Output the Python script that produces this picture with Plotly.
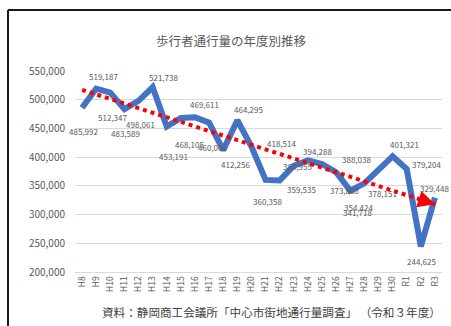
import numpy as np
import plotly.graph_objects as go

# Fiscal years (Heisei 8 .. Reiwa 3)
years = ["H8", "H9", "H10", "H11", "H12", "H13", "H14", "H15", "H16", "H17",
         "H18", "H19", "H20", "H21", "H22", "H23", "H24", "H25", "H26", "H27",
         "H28", "H29", "H30", "R1", "R2", "R3"]

# Pedestrian counts per fiscal year
counts = [485992, 519187, 512347, 483589, 498061, 521738, 453191, 468105,
          469611, 460006, 412256, 464295, 418514, 360358, 359535, 384955,
          394288, 388038, 373808, 341718, 354424, 378151, 401321, 379204,
          244625, 329448]

y_ticks = [200000, 250000, 300000, 350000, 400000, 450000, 500000, 550000]

# Data-label pixel offsets (dx right, dy down) relative to each point
label_dx = [1, 7, 2, 1, 2, 11, 7, 9, 10, 3, 12, 11, 30, 2, 22, 4, 10, 34, 8, 7,
            -6, 4, 12, 20, 1, 0]
label_dy = [24, -12, 25, 24, 24, -10, 30, 26, -13, 25, 14, -11, -3, 22, 9, 1,
            -9, -5, 18, 22, 24, 24, -12, -5, 15, -9]

GRAY = "#595959"
FONT = "Noto Sans CJK JP"

xi = np.arange(len(years))

# Linear trend line over the whole period
slope, intercept = np.polyfit(xi, counts, 1)
trend = slope * xi + intercept

# Plot-area geometry in pixels
W, H = 451, 326
L, T, PW, PH = 75, 71, 367, 201


def px_x(p):
    return (p - L) / PW


def px_y(p):
    return (T + PH - p) / PH


fig = go.Figure()

fig.add_trace(go.Scatter(
    x=xi, y=counts, mode="lines",
    line=dict(color="#4472C4", width=6),
    hoverinfo="skip", showlegend=False,
))

fig.add_trace(go.Scatter(
    x=xi, y=trend, mode="lines",
    line=dict(color="#FF0000", width=4, dash="dot"),
    hoverinfo="skip", showlegend=False,
))

# Arrowhead at the end of the trend line
fig.add_annotation(
    x=xi[-1], y=trend[-1], xref="x", yref="y",
    ax=xi[-1] - 0.55, ay=slope * (xi[-1] - 0.55) + intercept,
    axref="x", ayref="y",
    showarrow=True, arrowhead=2, arrowsize=1.7, arrowwidth=2,
    arrowcolor="#FF0000", text="",
)

# Value labels
for i, v in enumerate(counts):
    fig.add_annotation(
        x=xi[i], y=v, xref="x", yref="y",
        text=f"{v:,}", showarrow=False,
        xanchor="center", yanchor="middle",
        xshift=label_dx[i], yshift=-label_dy[i],
        font=dict(size=8, color=GRAY, family=FONT),
    )

# Source note
fig.add_annotation(
    x=px_x(271.5), y=px_y(312), xref="paper", yref="paper",
    text="資料：静岡商工会議所「中心市街地通行量調査」 （令和３年度）",
    showarrow=False, xanchor="center", yanchor="middle",
    font=dict(size=11.6, color="#404040", family=FONT),
)

# Chart frame (left and top edges)
fig.add_shape(type="line", xref="paper", yref="paper",
              x0=px_x(8), x1=px_x(460), y0=px_y(10), y1=px_y(10),
              line=dict(color="#1a1a1a", width=2))
fig.add_shape(type="line", xref="paper", yref="paper",
              x0=px_x(8), x1=px_x(8), y0=px_y(10), y1=px_y(340),
              line=dict(color="#1a1a1a", width=2))

fig.update_layout(
    width=W, height=H,
    margin=dict(l=L, r=W - L - PW, t=T, b=H - T - PH),
    paper_bgcolor="white", plot_bgcolor="white",
    font=dict(family=FONT, color=GRAY),
    title=dict(
        text="歩行者通行量の年度別推移",
        x=231 / W, xref="container", xanchor="center",
        y=1 - 41.5 / H, yref="container", yanchor="middle",
        font=dict(size=12.5, color=GRAY, family=FONT),
    ),
    xaxis=dict(
        range=[-0.5, len(years) - 0.5],
        tickvals=list(xi), ticktext=years,
        tickangle=-90, tickfont=dict(size=8.5, color=GRAY, family=FONT),
        showgrid=False, zeroline=False,
        showline=True, linecolor="#d9d9d9", linewidth=1,
        ticks="",
    ),
    yaxis=dict(
        range=[200000, 550000],
        tickvals=y_ticks, tickformat=",",
        tickfont=dict(size=10, color=GRAY, family=FONT),
        showgrid=True, gridcolor="#d9d9d9", gridwidth=1,
        zeroline=False, showline=False, ticks="",
        ticklabelstandoff=9,
    ),
)

fig.write_html("out.html")
